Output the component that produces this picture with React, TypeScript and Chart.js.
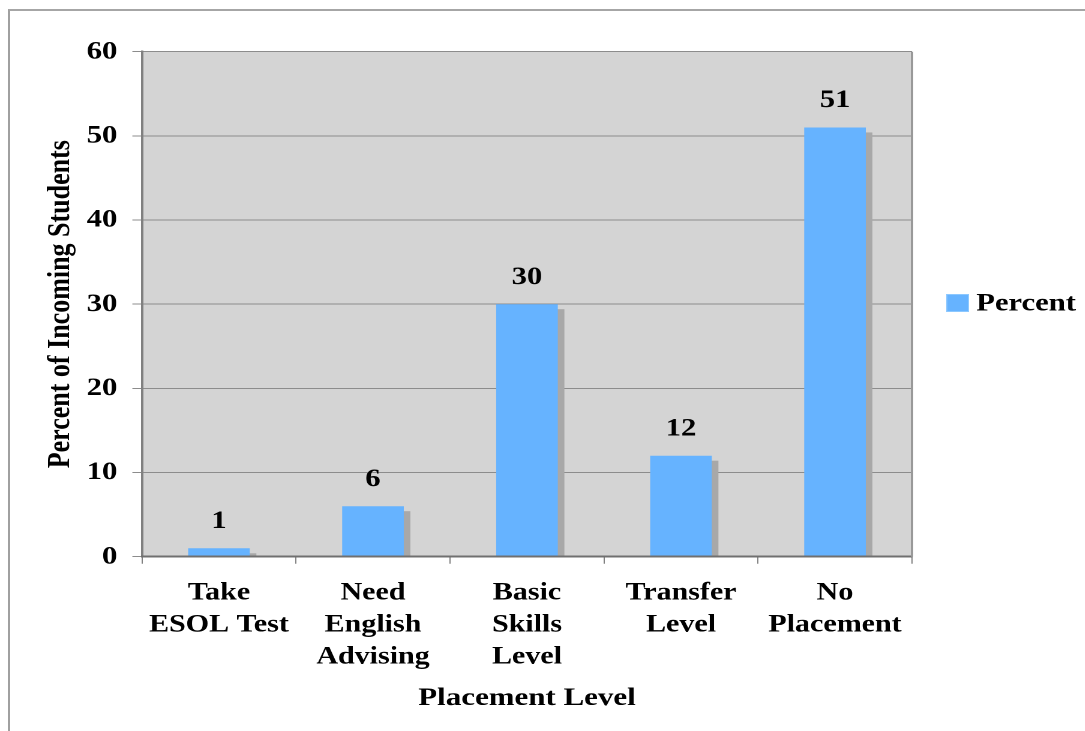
import { useEffect, useRef } from "react";
import { Chart, registerables } from "chart.js";

Chart.register(...registerables);

// Placement results for incoming students
const categories: string[][] = [
  ["Take", "ESOL Test"],
  ["Need", "English", "Advising"],
  ["Basic", "Skills", "Level"],
  ["Transfer", "Level"],
  ["No", "Placement"],
];
const percentValues: number[] = [1, 6, 30, 12, 51];
const seriesLabel = "Percent";
const yMin = 0;
const yMax = 60;
const yStep = 10;
const xAxisTitle = "Placement Level";
const yAxisTitle = "Percent of Incoming Students";

const FONT = "'Liberation Serif', 'Times New Roman', Times, serif";
const BAR_COLOR = "#66b3ff";
const SHADOW_COLOR = "#a8a8a8";
const PLOT_BG = "#d4d4d4";

// The chart is laid out on a narrower canvas and widened horizontally.
const STRETCH = 1.2;
const W = 905;
const H = 731;

const plotBackground = {
  id: "plotBackground",
  beforeDraw(chart: any) {
    const { ctx, chartArea: a } = chart;
    ctx.save();
    ctx.fillStyle = PLOT_BG;
    ctx.fillRect(a.left, a.top, a.right - a.left, a.bottom - a.top);
    ctx.restore();
  },
};

const barDecorations = {
  id: "barDecorations",
  beforeDatasetsDraw(chart: any) {
    const { ctx, chartArea: a } = chart;
    const meta = chart.getDatasetMeta(0);
    ctx.save();
    ctx.beginPath();
    ctx.rect(a.left, a.top, a.right - a.left, a.bottom - a.top);
    ctx.clip();
    ctx.fillStyle = SHADOW_COLOR;
    meta.data.forEach((el: any) => {
      const { x, y, base, width } = el.getProps(["x", "y", "base", "width"], true);
      ctx.fillRect(x - width / 2 + 5.5, y + 5, width, base - y);
    });
    ctx.restore();
  },
  afterDatasetsDraw(chart: any) {
    const { ctx } = chart;
    const meta = chart.getDatasetMeta(0);
    const values = chart.data.datasets[0].data as number[];
    ctx.save();
    ctx.fillStyle = "#000";
    ctx.font = `bold 25.5px ${FONT}`;
    ctx.textAlign = "center";
    ctx.textBaseline = "middle";
    meta.data.forEach((el: any, i: number) => {
      const { x, y } = el.getProps(["x", "y"], true);
      ctx.fillText(String(values[i]), x, y - 27);
    });
    ctx.restore();
  },
  afterDraw(chart: any) {
    const { ctx, chartArea: a } = chart;
    ctx.save();
    // right frame of the plot area
    ctx.strokeStyle = "#999999";
    ctx.lineWidth = 2;
    ctx.beginPath();
    ctx.moveTo(a.right, a.top);
    ctx.lineTo(a.right, a.bottom);
    ctx.stroke();
    // legend
    const ds = chart.data.datasets[0];
    const bx = 788.5;
    const by = 294;
    ctx.fillStyle = ds.backgroundColor;
    ctx.fillRect(bx, by, 19, 18);
    ctx.strokeStyle = "#8cc8ff";
    ctx.lineWidth = 1;
    ctx.strokeRect(bx + 0.5, by + 0.5, 18, 17);
    ctx.fillStyle = "#000";
    ctx.font = `bold 25.5px ${FONT}`;
    ctx.textAlign = "left";
    ctx.textBaseline = "middle";
    ctx.fillText(ds.label, 813.5, 304);
    ctx.restore();
  },
};

export default function App() {
  const canvasRef = useRef<HTMLCanvasElement | null>(null);

  useEffect(() => {
    const canvas = canvasRef.current;
    if (!canvas) return;
    const chart = new Chart(canvas, {
      type: "bar",
      data: {
        labels: categories,
        datasets: [
          {
            label: seriesLabel,
            data: percentValues,
            backgroundColor: BAR_COLOR,
            borderWidth: 0,
            categoryPercentage: 1,
            barPercentage: 0.4,
          },
        ],
      },
      options: {
        responsive: false,
        animation: false,
        devicePixelRatio: 2,
        layout: { padding: { left: 0, right: W - 760, top: 51.7, bottom: 0 } },
        plugins: {
          legend: { display: false },
          tooltip: { enabled: false },
        },
        scales: {
          x: {
            afterFit: (scale: any) => {
              scale.height = H - 556.7;
            },
            grid: {
              drawOnChartArea: false,
              drawTicks: true,
              tickLength: 7,
              color: "#808080",
            },
            border: { display: true, color: "#707070", width: 2, z: 1 },
            ticks: {
              color: "#000",
              padding: 13.5,
              maxRotation: 0,
              autoSkip: false,
              font: { family: FONT, size: 25, weight: "bold", lineHeight: 1.28 },
            },
            title: {
              display: true,
              text: xAxisTitle,
              color: "#000",
              padding: { top: 0, bottom: 17 },
              font: { family: FONT, size: 25.8, weight: "bold", lineHeight: 1.2 },
            },
          },
          y: {
            min: yMin,
            max: yMax,
            afterFit: (scale: any) => {
              scale.width = 118.3;
            },
            grid: {
              color: "#8c8c8c",
              lineWidth: 1,
              tickLength: 8,
            },
            border: { display: true, color: "#808080", width: 2 },
            ticks: {
              stepSize: yStep,
              color: "#000",
              padding: 12.5,
              font: { family: FONT, size: 25.5, weight: "bold" },
            },
            title: {
              display: true,
              text: yAxisTitle,
              color: "#000",
              padding: { top: 35.4, bottom: 0 },
              font: { family: FONT, size: 26, weight: "bold", lineHeight: 1.2 },
            },
          },
        },
      } as any,
      plugins: [plotBackground, barDecorations],
    });
    return () => chart.destroy();
  }, []);

  return (
    <div
      style={{
        position: "fixed",
        left: 0,
        top: 0,
        width: 1085,
        height: 731,
        overflow: "hidden",
        background: "#fff",
      }}
    >
      <div
        style={{
          position: "absolute",
          left: 8,
          top: 9,
          width: 1200,
          height: 800,
          borderTop: "2px solid #a6a6a6",
          borderLeft: "2px solid #a0a0a0",
        }}
      />
      <div
        style={{
          position: "absolute",
          left: 0,
          top: 0,
          width: W,
          height: H,
          transform: `scaleX(${STRETCH})`,
          transformOrigin: "0 0",
        }}
      >
        <canvas ref={canvasRef} width={W} height={H} />
      </div>
    </div>
  );
}
